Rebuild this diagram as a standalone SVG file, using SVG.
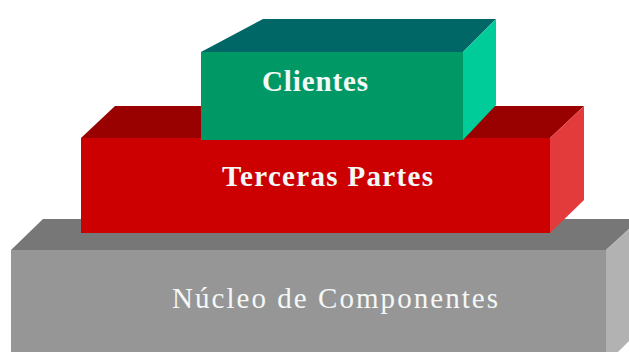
<svg xmlns="http://www.w3.org/2000/svg" width="629" height="352" viewBox="0 0 629 352">
<style>
text { font-family: "Liberation Serif", "Times New Roman", serif; font-size: 29px; }
.lbl { fill: #f4f8f6; }
</style>
<rect x="0" y="0" width="629" height="352" fill="#ffffff"/>
<g id="nucleo">
  <polygon points="11,250 43,219 640,219 606,250" fill="#777777"/>
  <polygon points="606,250 640,219 640,330 606,364" fill="#b2b2b2"/>
  <rect x="11" y="250" width="595" height="110" fill="#969696"/>
  <text class="lbl" x="172" y="308" textLength="326" lengthAdjust="spacing" fill="#f4f4f4">Núcleo de Componentes</text>
</g>
<g id="terceras">
  <polygon points="81,138 115,106 584,106 550,138" fill="#990000"/>
  <polygon points="550,138 584,106 584,200 550,233" fill="#e33b3b"/>
  <rect x="81" y="138" width="469" height="95" fill="#cc0000"/>
  <text class="lbl" x="222" y="186" textLength="211" lengthAdjust="spacing" font-weight="bold" fill="#fff0f0">Terceras Partes</text>
</g>
<g id="clientes">
  <polygon points="201,52 263,19 496,19 463,52" fill="#006666"/>
  <polygon points="463,52 496,19 496,105 463,140" fill="#00cc99"/>
  <rect x="201" y="52" width="262" height="88" fill="#009966"/>
  <text class="lbl" x="262" y="91" textLength="106" lengthAdjust="spacing" font-weight="bold" fill="#e6fff4">Clientes</text>
</g>
<g id="connectors"></g>
</svg>
